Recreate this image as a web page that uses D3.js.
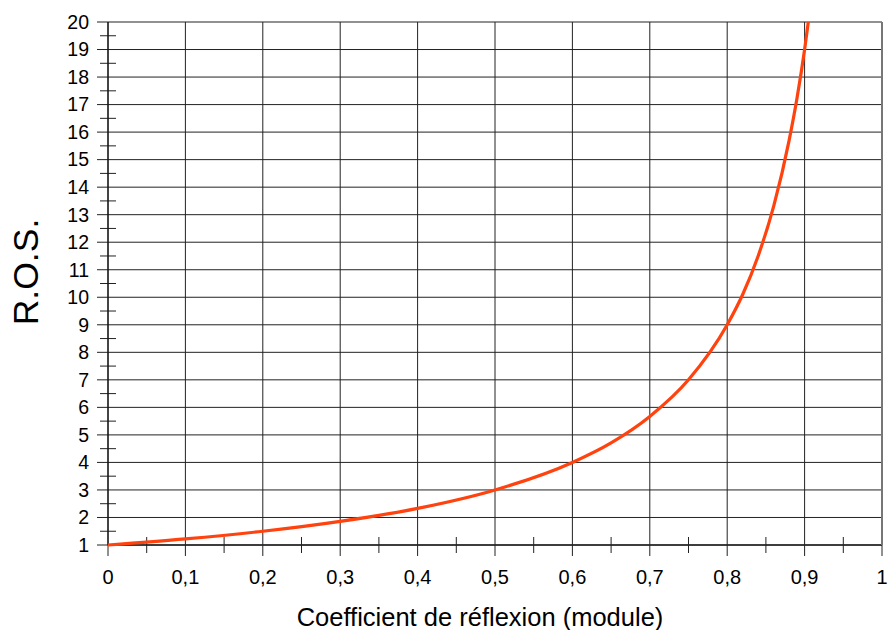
<!DOCTYPE html>
<html>
<head>
<meta charset="utf-8">
<script src="https://cdn.jsdelivr.net/npm/d3@7"></script>
<style>
  body { margin: 0; background: #fff; }
  text { font-family: "Liberation Sans", Arial, sans-serif; fill: #000; }
</style>
</head>
<body>
<svg id="chart" width="888" height="630"></svg>
<script>
// values
var gamma = [0, 0.1, 0.2, 0.3, 0.4, 0.5, 0.6, 0.65, 0.7, 0.75, 0.8, 0.82, 0.84, 0.86, 0.88, 0.89, 0.9, 0.905];
var ros   = [1, 1.22, 1.5, 1.86, 2.33, 3, 4, 4.71, 5.67, 7, 9, 10.1, 11.5, 13.3, 15.7, 17.2, 19, 20.05];
var xTicks = [0, 0.1, 0.2, 0.3, 0.4, 0.5, 0.6, 0.7, 0.8, 0.9, 1];
var xMinor = [0.05, 0.15, 0.25, 0.35, 0.45, 0.55, 0.65, 0.75, 0.85, 0.95];
var yTicks = d3.range(1, 21);
var yMinor = d3.range(1.5, 20, 1);

var margin = {top: 22, right: 6, bottom: 85, left: 108},
    width = 888 - margin.left - margin.right,
    height = 630 - margin.top - margin.bottom;

var svg = d3.select("#chart");
var chart = svg.append("g")
    .attr("transform", "translate(" + margin.left + "," + margin.top + ")");

var xScale = d3.scaleLinear().domain([0, 1]).range([0, width]);
var yScale = d3.scaleLinear().domain([1, 20]).range([height, 0]);

// grid
chart.append("g")
    .selectAll("line")
    .data(yTicks)
    .enter()
    .append("line")
    .attr("x1", -11)
    .attr("x2", width)
    .attr("y1", d => yScale(d))
    .attr("y2", d => yScale(d))
    .attr("stroke", "#222")
    .attr("stroke-width", 1);

chart.append("g")
    .selectAll("line")
    .data(xTicks)
    .enter()
    .append("line")
    .attr("x1", d => xScale(d))
    .attr("x2", d => xScale(d))
    .attr("y1", 0)
    .attr("y2", height + 11)
    .attr("stroke", "#222")
    .attr("stroke-width", 1);

// minor ticks
chart.append("g")
    .selectAll("line")
    .data(yMinor)
    .enter()
    .append("line")
    .attr("x1", -8)
    .attr("x2", 8)
    .attr("y1", d => yScale(d))
    .attr("y2", d => yScale(d))
    .attr("stroke", "#222");

chart.append("g")
    .selectAll("line")
    .data(xMinor)
    .enter()
    .append("line")
    .attr("x1", d => xScale(d))
    .attr("x2", d => xScale(d))
    .attr("y1", height - 8)
    .attr("y2", height + 8)
    .attr("stroke", "#222");

// axis lines
chart.append("line")
    .attr("x1", 0).attr("x2", width)
    .attr("y1", height).attr("y2", height)
    .attr("stroke", "#222").attr("stroke-width", 1.5);
chart.append("line")
    .attr("x1", 0).attr("x2", 0)
    .attr("y1", 0).attr("y2", height)
    .attr("stroke", "#111").attr("stroke-width", 1.2);
chart.append("line")
    .attr("x1", width).attr("x2", width)
    .attr("y1", 0).attr("y2", height)
    .attr("stroke", "#777").attr("stroke-width", 2);

// tick labels
chart.append("g")
    .selectAll("text")
    .data(yTicks)
    .enter()
    .append("text")
    .attr("x", -19)
    .attr("y", d => yScale(d))
    .attr("dy", "0.35em")
    .attr("text-anchor", "end")
    .style("font-size", "19.5px")
    .text(d => d);

chart.append("g")
    .selectAll("text")
    .data(xTicks)
    .enter()
    .append("text")
    .attr("x", d => xScale(d))
    .attr("y", height + 39)
    .attr("text-anchor", "middle")
    .style("font-size", "20px")
    .text(d => String(d).replace(".", ","));

// curve
chart.append("clipPath")
    .attr("id", "clip")
    .append("rect")
    .attr("x", -5).attr("y", 0)
    .attr("width", width + 5).attr("height", height + 5);

var line = d3.line()
    .x((d, i) => xScale(gamma[i]))
    .y(d => yScale(d))
    .curve(d3.curveMonotoneX);

chart.append("path")
    .datum(ros)
    .attr("clip-path", "url(#clip)")
    .attr("d", line)
    .attr("fill", "none")
    .attr("stroke", "#ff420e")
    .attr("stroke-width", 3.2);

// axis titles
svg.append("text")
    .attr("x", 480)
    .attr("y", 626)
    .attr("text-anchor", "middle")
    .style("font-size", "25.5px")
    .text("Coefficient de réflexion (module)");

svg.append("text")
    .attr("transform", "translate(38,272) rotate(-90)")
    .attr("text-anchor", "middle")
    .style("font-size", "35.5px")
    .text("R.O.S.");
</script>
</body>
</html>
